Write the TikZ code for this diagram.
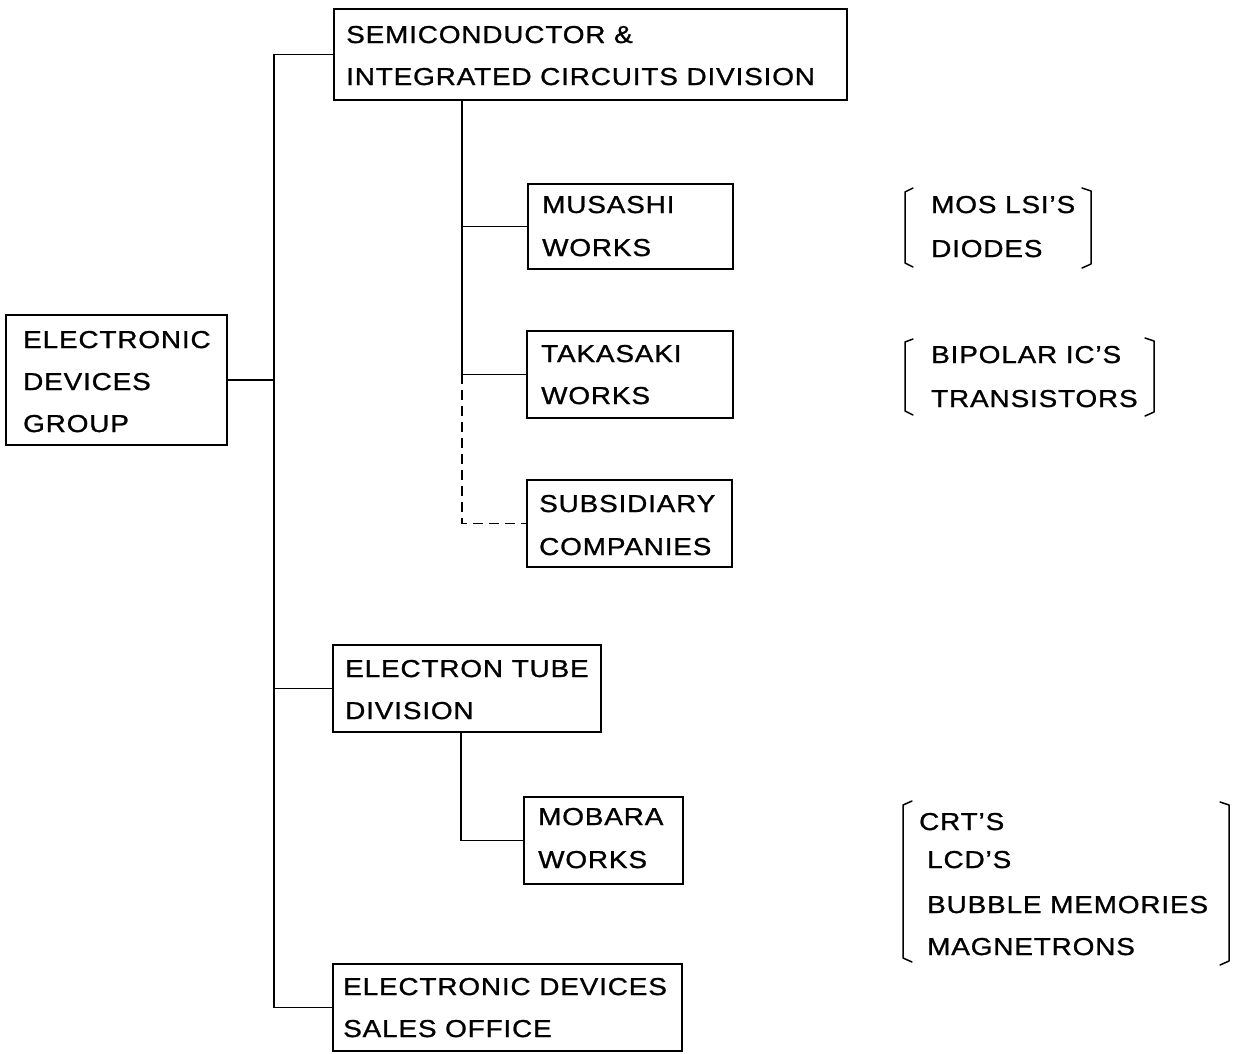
\documentclass[tikz,border=0pt]{standalone}
\usepackage{fontspec}
\setmainfont{Liberation Sans}[FakeStretch=1.14,LetterSpace=3.4,FakeBold=1]
\begin{document}
\begin{tikzpicture}[x=1pt,y=-1pt,
  box/.style={draw,line width=1.6pt,anchor=north west,align=left,inner xsep=0pt,inner ysep=0pt},
  conn/.style={line width=1.5pt},
  lbl/.style={anchor=base west,inner sep=0pt},
  brk/.style={line width=1.5pt,line cap=round,line join=round},
  every node/.style={font=\fontsize{24.5}{42}\selectfont}]
\useasboundingbox (0,0) rectangle (1233,1053);
% boxes
\node[box,minimum width=221pt,minimum height=130pt] (edg) at (5,314) {};
\node[lbl] at (23,348) {ELECTRONIC};
\node[lbl] at (23,390) {DEVICES};
\node[lbl] at (23,432) {GROUP};
\node[box,minimum width=513pt,minimum height=91pt] (semi) at (333,8) {};
\node[lbl] at (346,43) {SEMICONDUCTOR \&};
\node[lbl] at (346,85) {INTEGRATED CIRCUITS DIVISION};
\node[box,minimum width=205pt,minimum height=85pt] (mus) at (527,183) {};
\node[lbl] at (542,213) {MUSASHI};
\node[lbl] at (542,256) {WORKS};
\node[box,minimum width=206pt,minimum height=87pt] (taka) at (526,330) {};
\node[lbl] at (541,362) {TAKASAKI};
\node[lbl] at (541,404) {WORKS};
\node[box,minimum width=205pt,minimum height=87pt] (sub) at (526,479) {};
\node[lbl] at (539,512) {SUBSIDIARY};
\node[lbl] at (539,555) {COMPANIES};
\node[box,minimum width=268pt,minimum height=87pt] (et) at (332,644) {};
\node[lbl] at (345,677) {ELECTRON TUBE};
\node[lbl] at (345,719) {DIVISION};
\node[box,minimum width=159pt,minimum height=87pt] (mob) at (523,796) {};
\node[lbl] at (538,825) {MOBARA};
\node[lbl] at (538,868) {WORKS};
\node[box,minimum width=349pt,minimum height=87pt] (sales) at (332,963) {};
\node[lbl] at (343,995) {ELECTRONIC DEVICES};
\node[lbl] at (343,1037) {SALES OFFICE};
% connectors
\coordinate (bus) at (274,0);
\coordinate (sv) at (462,0);
\coordinate (ev) at (461,0);
\draw[conn] (edg.east) -- (edg.east -| bus);
\draw[conn] (semi.west) -- (semi.west -| bus) -- (sales.west -| bus) -- (sales.west);
\draw[conn] (et.west) -- (et.west -| bus);
\draw[conn] (semi.south -| sv) |- (taka.west);
\draw[conn] (mus.west -| sv) -- (mus.west);
\draw[conn,dash pattern=on 10pt off 6pt] (taka.west -| sv) |- (sub.west);
\draw[conn] (et.south -| ev) |- (mob.west);
% brackets
\draw[brk] (913,188) -- (905,192) -- (905,263) -- (913,267);
\draw[brk] (1082,188) -- (1091,191) -- (1091,264) -- (1082,268);
\node[lbl] at (931,213) {MOS LSI'S};
\node[lbl] at (931,257) {DIODES};
\draw[brk] (913,339) -- (905,342) -- (905,411) -- (913,415);
\draw[brk] (1145,338) -- (1154,341) -- (1154,412) -- (1145,416);
\node[lbl] at (931,363) {BIPOLAR IC'S};
\node[lbl] at (931,407) {TRANSISTORS};
\draw[brk] (912,801) -- (903,805) -- (903,958) -- (912,962);
\draw[brk] (1220,802) -- (1229,805) -- (1229,961) -- (1220,965);
\node[lbl] at (919,830) {CRT'S};
\node[lbl] at (927,868) {LCD'S};
\node[lbl] at (927,913) {BUBBLE MEMORIES};
\node[lbl] at (927,955) {MAGNETRONS};
\end{tikzpicture}
\end{document}
